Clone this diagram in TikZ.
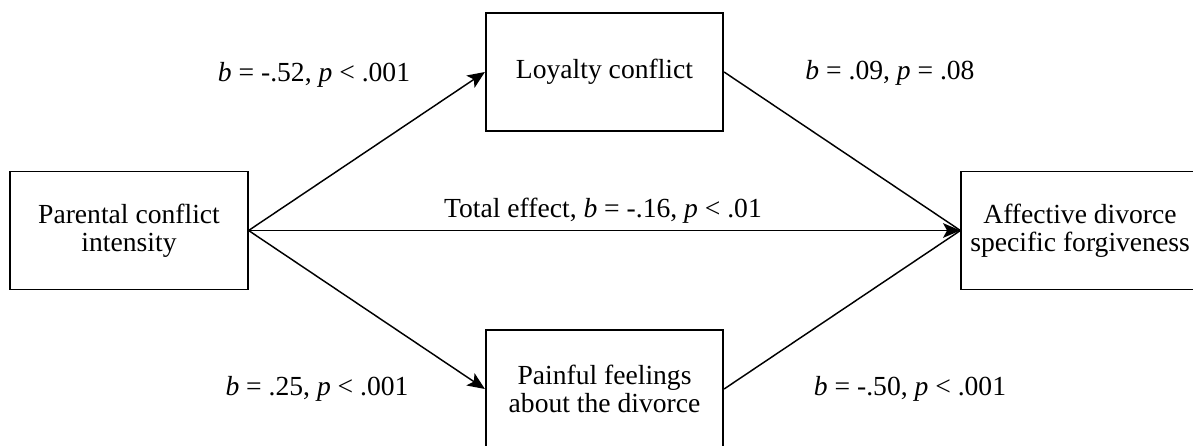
\documentclass[tikz,border=0pt]{standalone}
\usepackage{fontspec}
\setmainfont{Liberation Serif}
\usetikzlibrary{arrows.meta}
\begin{document}
\begin{tikzpicture}[x=0.75pt,y=-0.75pt,
  box/.style={draw, line width=1.4pt, minimum width=178pt, minimum height=88.5pt, align=center, inner sep=0pt, font=\fontsize{20.7}{21}\selectfont},
  lbl/.style={font=\fontsize{20.7}{21}\selectfont, inner sep=0pt},
  arr/.style={line width=1.1pt, -{Stealth[length=13pt,width=11pt,inset=3pt]}},
  ln/.style={line width=1.1pt}]
\useasboundingbox (0,0) rectangle (1193,446);
\node[box] (L) at (129,230.5) {Parental conflict\\intensity};
\node[box] (Y) at (604.5,72) {Loyalty conflict};
\node[box] (P) at (604.5,389) {Painful feelings\\about the divorce};
\node[box] (R) at (1080,230.5) {Affective divorce\\specific forgiveness};
\draw[arr] (L.east) -- (Y.west);
\draw[arr] (L.east) -- (P.west);
\draw[ln] (Y.east) -- (R.west);
\draw[ln] (P.east) -- (R.west);
\draw[arr] (L.east) -- (R.west);
\node[lbl] (l1) at (314,75) {\textit{b} = -.52, \textit{p} < .001};
\node[lbl] (l2) at (890,73) {\textit{b} = .09, \textit{p} = .08};
\node[lbl] (l3) at (317,389) {\textit{b} = .25, \textit{p} < .001};
\node[lbl] (l4) at (910,389) {\textit{b} = -.50, \textit{p} < .001};
\node[lbl] (t) at (603,211) {Total effect, \textit{b} = -.16, \textit{p} < .01};
\end{tikzpicture}
\end{document}
